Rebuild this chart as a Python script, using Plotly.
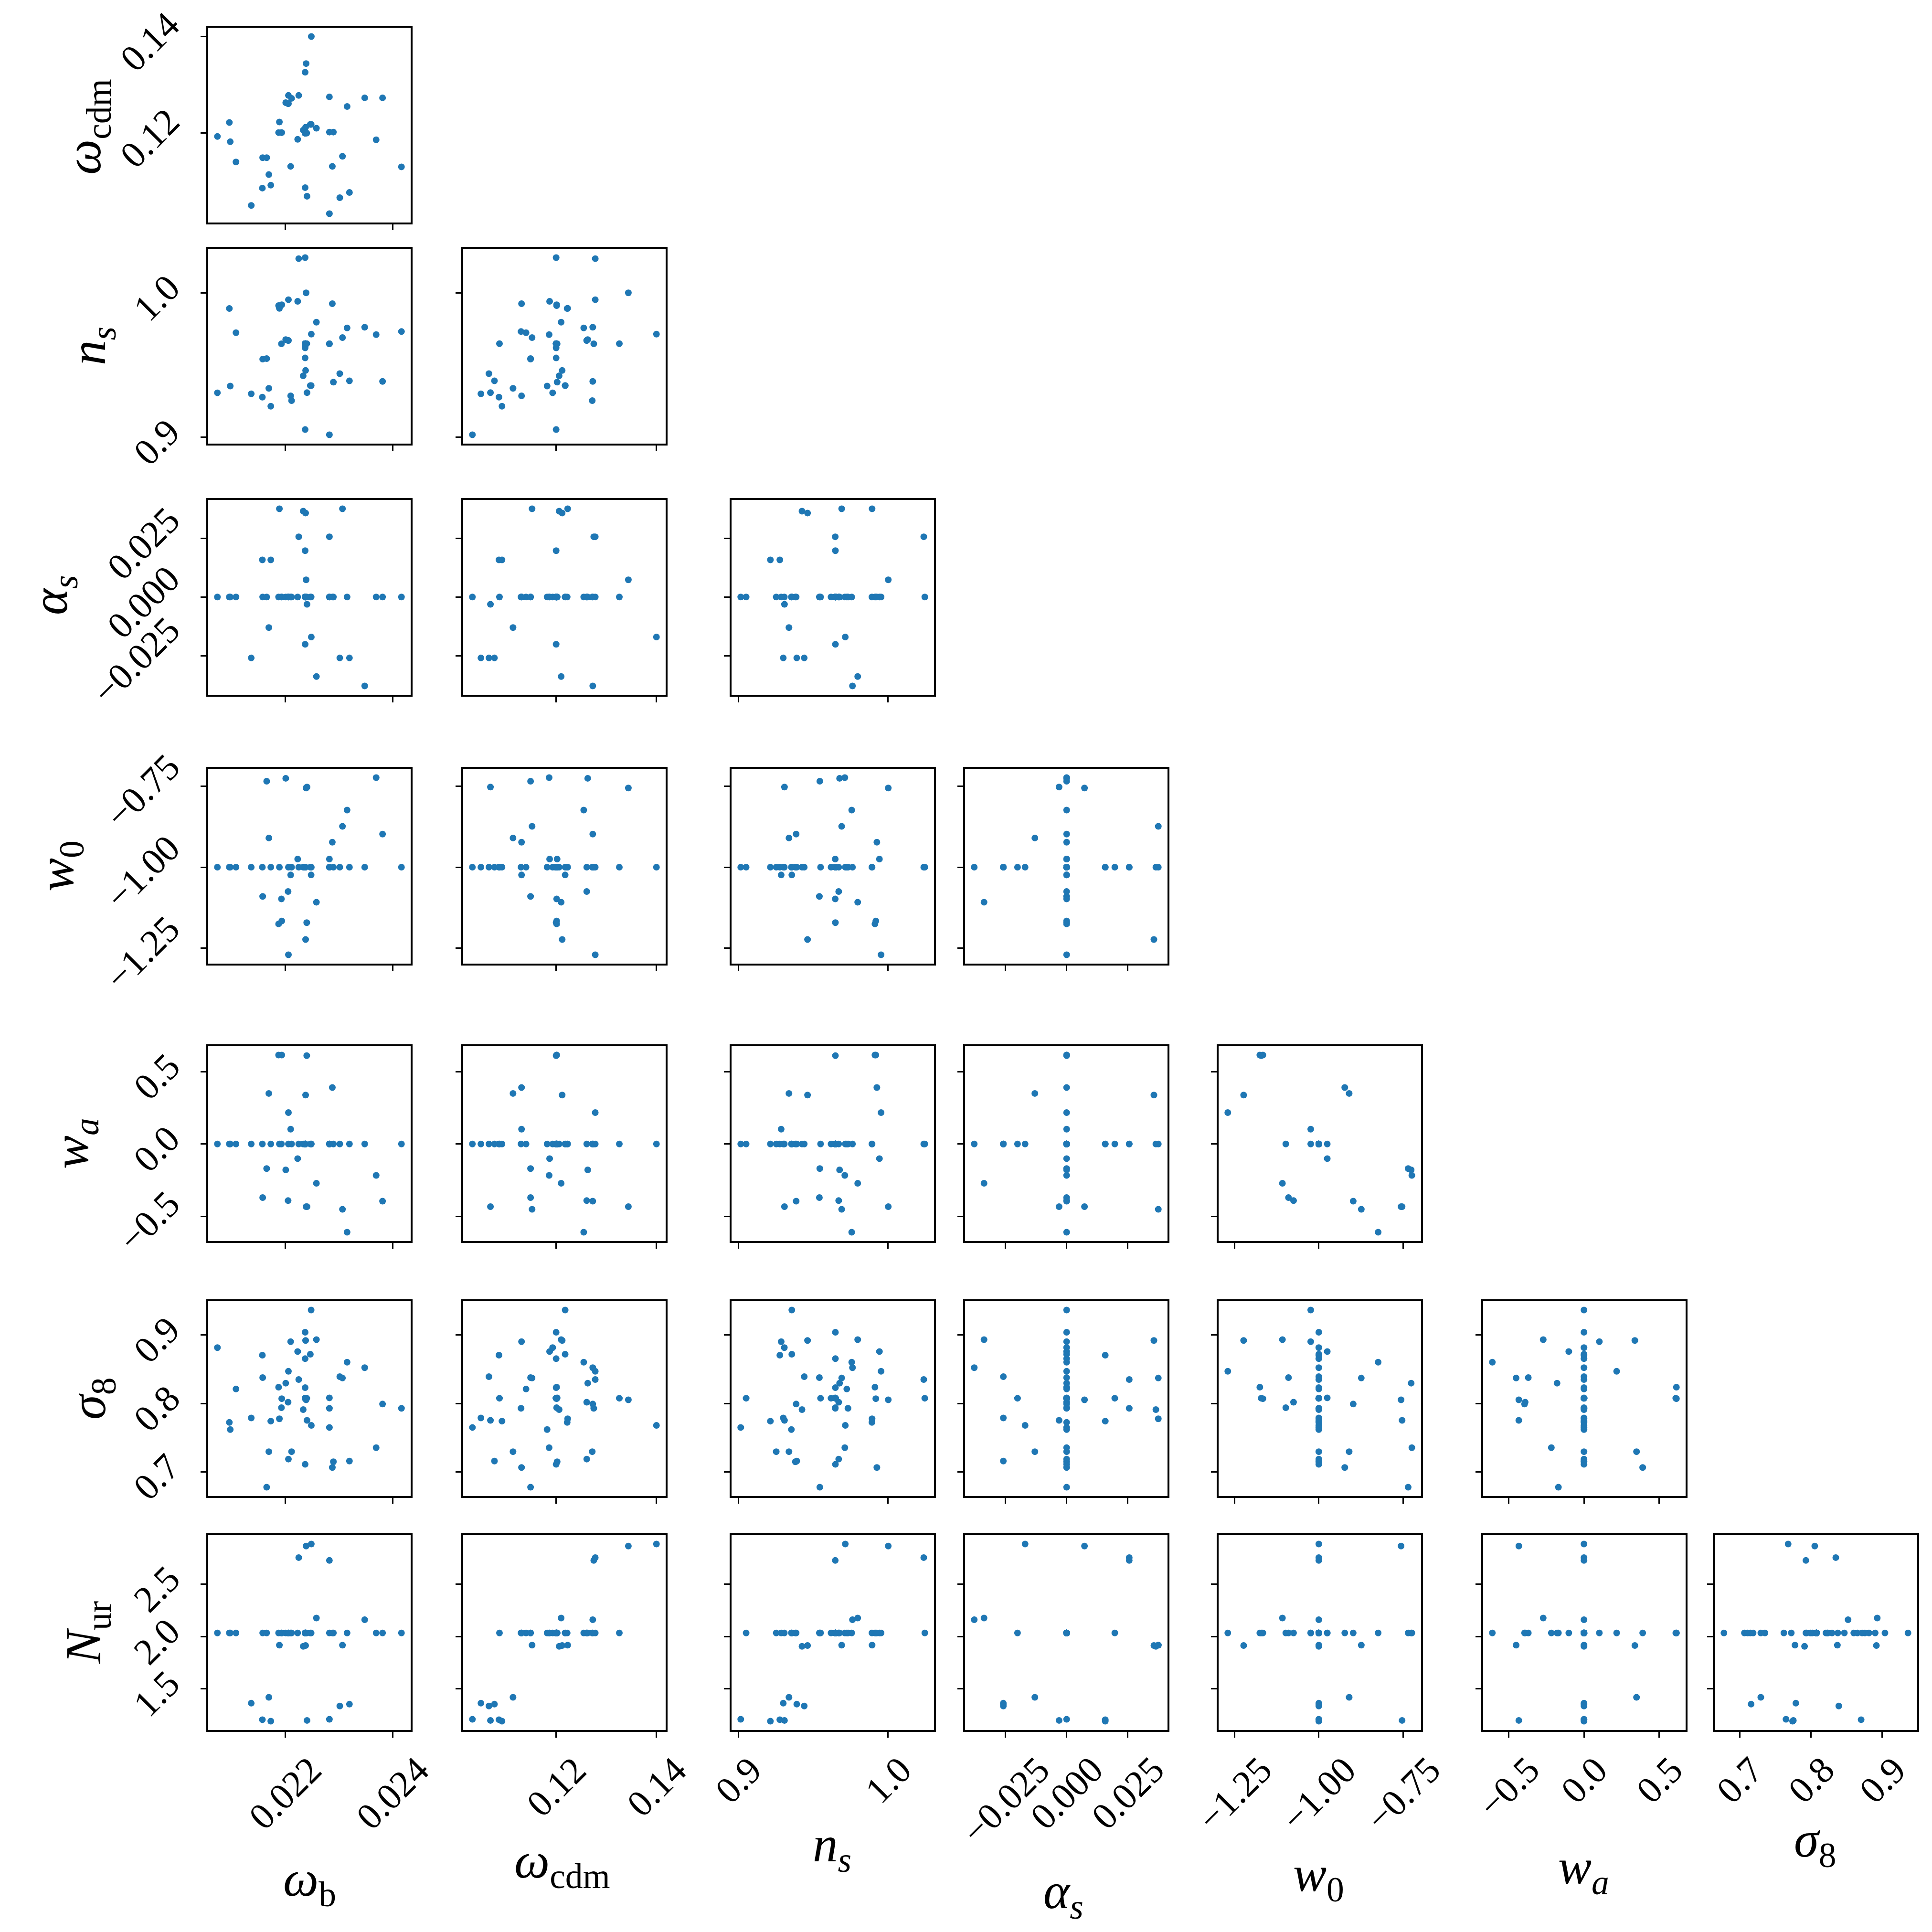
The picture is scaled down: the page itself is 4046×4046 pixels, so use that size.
import plotly.graph_objects as go

# one entry per model in the sample
omega_b = [0.020737, 0.020959, 0.020976, 0.021083, 0.021367, 0.021574, 0.021580, 0.021654, 0.021695, 0.021731,
           0.021876, 0.021891, 0.021935, 0.021929, 0.022009, 0.022053, 0.022059, 0.022101, 0.022118, 0.022231,
           0.022251, 0.022334, 0.02237, 0.02237, 0.02237, 0.02237, 0.02237, 0.022379, 0.022388, 0.022405,
           0.022482, 0.022485, 0.022580, 0.022822, 0.022822, 0.022822, 0.022876, 0.022896, 0.023015, 0.023065,
           0.023151, 0.023195, 0.023479, 0.023692, 0.023811, 0.024163, 0.02237, 0.02237, 0.02237, 0.02237,
           0.02237, 0.02237, 0.02237, 0.022467, 0.022059, 0.02240]
omega_cdm = [0.1193, 0.1222, 0.1182, 0.1140, 0.1050, 0.1086, 0.1149, 0.1149, 0.1114, 0.1092,
             0.1201, 0.1223, 0.1201, 0.1201, 0.1263, 0.1261, 0.1278, 0.1131, 0.1272, 0.1187,
             0.1278, 0.1206, 0.1200, 0.1087, 0.1326, 0.1200, 0.1200, 0.1212, 0.1344, 0.1069,
             0.1218, 0.1400, 0.1210, 0.1275, 0.1202, 0.1033, 0.1131, 0.1202, 0.1066, 0.1152,
             0.1255, 0.1077, 0.1273, 0.1186, 0.1273, 0.1130, 0.1200, 0.1200, 0.1200, 0.1200,
             0.1200, 0.1200, 0.1200, 0.1218, 0.1261, 0.1200]
n_s = [0.9307, 0.9892, 0.9354, 0.9724, 0.9300, 0.9277, 0.9541, 0.9544, 0.9338, 0.9214,
       0.9912, 0.9893, 0.9918, 0.9647, 0.9676, 0.9670, 0.9953, 0.9286, 0.9253, 0.9942,
       1.0238, 0.9425, 1.0245, 0.9648, 0.9648, 0.9549, 0.9052, 0.9462, 1.0001, 0.9308,
       0.9357, 0.9714, 0.9797, 0.9647, 0.9647, 0.9016, 0.9925, 0.9381, 0.9440, 0.9690,
       0.9757, 0.9390, 0.9762, 0.9711, 0.9386, 0.9732, 0.9648, 0.9648, 0.9648, 0.9648,
       0.9648, 0.9648, 0.9619, 0.9357, 0.9670, 0.9648]
alpha_s = [0.0, 0.0, 0.0, 0.0, -0.0259, 0.0158, 0.0, 0.0, -0.0130, 0.0158,
           0.0, 0.0375, 0.0, 0.0, 0.0, 0.0, 0.0, 0.0, 0.0, 0.0,
           0.0256, 0.0365, 0.0, 0.0, 0.0, 0.0, 0.0, 0.0357, 0.0073, -0.0031,
           0.0, -0.0170, -0.0338, 0.0256, 0.0, 0.0, 0.0, 0.0, -0.0259, 0.0375,
           0.0, -0.0259, -0.0378, 0.0, 0.0, 0.0, 0.0, 0.0, 0.0, 0.0,
           0.0197, -0.0201, 0.0, 0.0, 0.0, 0.0]
w0 = [-1.0, -1.0, -1.0, -1.0, -1.0, -1.0, -1.090, -0.735, -0.910, -1.0,
      -1.175, -1.0, -1.166, -1.098, -0.726, -1.075, -1.270, -1.024, -1.0, -0.975,
      -1.0, -1.0, -1.0, -1.0, -1.0, -1.0, -1.0, -1.223, -0.756, -0.753,
      -1.024, -1.0, -1.108, -1.0, -0.975, -1.0, -0.923, -1.0, -1.0, -0.874,
      -0.824, -1.0, -1.0, -0.724, -0.898, -1.0, -1.0, -1.0, -1.0, -1.0,
      -1.0, -1.0, -1.0, -1.0, -1.0, -1.171]
wa = [0.0, 0.0, 0.0, 0.0, 0.0, 0.0, -0.370, -0.170, 0.349, 0.0,
      0.614, 0.0, 0.614, 0.0, -0.179, -0.391, 0.217, 0.102, 0.0, -0.101,
      0.0, 0.0, 0.0, 0.0, 0.0, 0.0, 0.0, 0.338, -0.433, -0.433,
      0.0, 0.0, -0.271, 0.0, 0.0, 0.0, 0.390, 0.0, 0.0, -0.451,
      -0.609, 0.0, 0.0, -0.217, -0.395, 0.0, 0.0, 0.0, 0.0, 0.0,
      0.0, 0.0, 0.0, 0.0, 0.0, 0.610]
sigma8 = [0.8813, 0.7724, 0.7620, 0.8210, 0.7788, 0.8703, 0.8376, 0.6780, 0.7297, 0.7742,
          0.8237, 0.7776, 0.8069, 0.7938, 0.8295, 0.8018, 0.8468, 0.8900, 0.7297, 0.8756,
          0.8348, 0.7910, 0.8076, 0.8076, 0.8076, 0.8076, 0.8076, 0.8917, 0.8053, 0.7753,
          0.9360, 0.7680, 0.8929, 0.7929, 0.8081, 0.7650, 0.7067, 0.7150, 0.8390, 0.8370,
          0.8600, 0.7161, 0.8520, 0.7355, 0.7991, 0.7929, 0.9037, 0.8652, 0.8230, 0.7113,
          0.8076, 0.8076, 0.8076, 0.8717, 0.7189, 0.8076]
N_ur = [2.0328, 2.0328, 2.0328, 2.0328, 1.364, 1.207, 2.0328, 2.0328, 1.420, 1.193,
        2.0328, 1.917, 2.0328, 2.0328, 2.0328, 2.0328, 2.0328, 2.0328, 2.0328, 2.0328,
        2.751, 1.906, 2.0328, 2.0328, 2.0328, 2.0328, 2.0328, 1.914, 2.861, 1.200,
        2.0328, 2.880, 2.175, 2.724, 2.0328, 1.211, 2.0328, 2.0328, 1.337, 1.917,
        2.0328, 1.355, 2.159, 2.0328, 2.0328, 2.0328, 2.0328, 2.0328, 2.0328, 2.0328,
        2.0328, 2.0328, 2.0328, 2.0328, 2.0328, 2.0328]

params = [omega_b, omega_cdm, n_s, alpha_s, w0, wa, sigma8, N_ur]
labels = ["<i>ω</i><sub>b</sub>", "<i>ω</i><sub>cdm</sub>", "<i>n<sub>s</sub></i>", "<i>α<sub>s</sub></i>",
          "<i>w</i><sub>0</sub>", "<i>w<sub>a</sub></i>", "<i>σ</i><sub>8</sub>", "<i>N</i><sub>ur</sub>"]
tick_vals = [[0.022, 0.024], [0.12, 0.14], [0.9, 1.0], [-0.025, 0.0, 0.025],
             [-1.25, -1.0, -0.75], [-0.5, 0.0, 0.5], [0.7, 0.8, 0.9], [1.5, 2.0, 2.5]]
tick_text = [["0.022", "0.024"], ["0.12", "0.14"], ["0.9", "1.0"], ["−0.025", "0.000", "0.025"],
             ["−1.25", "−1.00", "−0.75"], ["−0.5", "0.0", "0.5"], ["0.7", "0.8", "0.9"], ["1.5", "2.0", "2.5"]]


def pad_range(v):
    lo, hi = min(v), max(v)
    d = 0.05 * (hi - lo)
    return [lo - d, hi + d]


W = H = 4046
col_left = [428, 962, 1524, 2013, 2544, 3098, 3583]
row_top = [50, 513, 1039, 1602, 2183, 2717, 3207]
pw, ph = 424, 408
FONT = "Liberation Serif"
tick_size = 78
label_size = 105

# axis label centres (px)
xlab_pos = [(640, 3934), (1169, 3896), (1734, 3862), (2219, 3960), (2753, 3924), (3308, 3909), (3793, 3852)]
ylab_pos = [(174, 258), (184, 717), (104, 1238), (117, 1806), (148, 2387), (184, 2921), (174, 3411)]

fig = go.Figure()
ann = []
k = 0
for i in range(7):
    for j in range(i + 1):
        k += 1
        xa = "x" if k == 1 else f"x{k}"
        ya = "y" if k == 1 else f"y{k}"
        fig.add_trace(go.Scatter(x=params[j], y=params[i + 1], mode="markers",
                                 marker=dict(color="#1f77b4", size=14, line=dict(width=0)),
                                 xaxis=xa, yaxis=ya, showlegend=False, hoverinfo="skip"))
        x0 = col_left[j] / W
        x1 = (col_left[j] + pw) / W
        y1 = 1 - row_top[i] / H
        y0 = 1 - (row_top[i] + ph) / H
        common = dict(showline=True, mirror=True, linewidth=4, linecolor="black",
                      ticks="outside", ticklen=12, tickwidth=3, tickcolor="black",
                      showgrid=False, zeroline=False, showticklabels=False)
        fig.layout["xaxis" if k == 1 else f"xaxis{k}"] = dict(
            domain=[x0, x1], range=pad_range(params[j]), anchor=ya,
            tickvals=tick_vals[j], **common)
        fig.layout["yaxis" if k == 1 else f"yaxis{k}"] = dict(
            domain=[y0, y1], range=pad_range(params[i + 1]), anchor=xa,
            tickvals=tick_vals[i + 1], **common)
        if i == 6:
            for v, t in zip(tick_vals[j], tick_text[j]):
                ann.append(dict(x=v, xref=xa, y=1 - (row_top[6] + ph + 36) / H, yref="paper",
                                text=t, textangle=-45, showarrow=False, xanchor="center", yanchor="top",
                                font=dict(family=FONT, size=tick_size, color="black")))
        if j == 0:
            for v, t in zip(tick_vals[i + 1], tick_text[i + 1]):
                ann.append(dict(x=(col_left[0] - 40) / W, xref="paper", y=v, yref=ya, yshift=-10,
                                text=t, textangle=-45, showarrow=False, xanchor="right", yanchor="middle",
                                font=dict(family=FONT, size=tick_size, color="black")))

for c, (px, py) in enumerate(xlab_pos):
    ann.append(dict(x=px / W, y=1 - py / H, xref="paper", yref="paper", text=labels[c],
                    showarrow=False, xanchor="center", yanchor="middle",
                    font=dict(family=FONT, size=label_size, color="black")))
for r, (px, py) in enumerate(ylab_pos):
    ann.append(dict(x=px / W, y=1 - py / H, xref="paper", yref="paper", text=labels[r + 1],
                    textangle=-90, showarrow=False, xanchor="center", yanchor="middle",
                    font=dict(family=FONT, size=label_size, color="black")))

fig.update_layout(width=W, height=H, margin=dict(l=0, r=0, t=0, b=0),
                  paper_bgcolor="white", plot_bgcolor="white", annotations=ann)

fig.write_html("out.html")
